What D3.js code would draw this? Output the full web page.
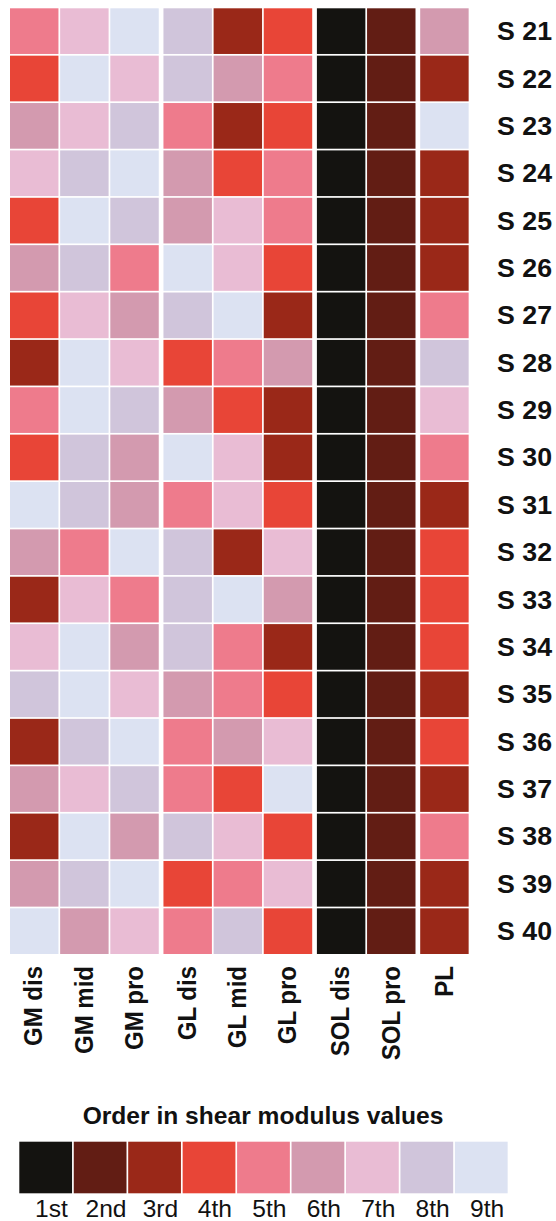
<!DOCTYPE html>
<html>
<head>
<meta charset="utf-8">
<script src="https://cdn.jsdelivr.net/npm/d3@7/dist/d3.min.js"></script>
<style>
  html, body { margin: 0; padding: 0; background: #fff; }
  svg { display: block; }
</style>
</head>
<body>
<svg id="chart" width="556" height="1221"></svg>
<script>
// Muscle regions (columns) and their anatomical groups
const columns = ["GM dis", "GM mid", "GM pro", "GL dis", "GL mid", "GL pro", "SOL dis", "SOL pro", "PL"];
const groups  = ["GM", "GM", "GM", "GL", "GL", "GL", "SOL", "SOL", "PL"];

// Subjects (rows)
const subjects = ["S 21", "S 22", "S 23", "S 24", "S 25", "S 26", "S 27", "S 28", "S 29", "S 30",
                  "S 31", "S 32", "S 33", "S 34", "S 35", "S 36", "S 37", "S 38", "S 39", "S 40"];

// Rank of each region's shear modulus within a subject (1 = highest)
const gmDis  = [5, 4, 6, 7, 4, 6, 4, 3, 5, 4, 9, 6, 3, 7, 8, 3, 6, 3, 6, 9];
const gmMid  = [7, 9, 7, 8, 9, 8, 7, 9, 9, 8, 8, 5, 7, 9, 9, 8, 7, 9, 8, 6];
const gmPro  = [9, 7, 8, 9, 8, 5, 6, 7, 8, 6, 6, 9, 5, 6, 7, 9, 8, 6, 9, 7];
const glDis  = [8, 8, 5, 6, 6, 9, 8, 4, 6, 9, 5, 8, 8, 8, 6, 5, 5, 8, 4, 5];
const glMid  = [3, 6, 3, 4, 7, 7, 9, 5, 4, 7, 7, 3, 9, 5, 5, 6, 4, 7, 5, 8];
const glPro  = [4, 5, 4, 5, 5, 4, 3, 6, 3, 3, 4, 7, 6, 3, 4, 7, 9, 4, 7, 4];
const solDis = [1, 1, 1, 1, 1, 1, 1, 1, 1, 1, 1, 1, 1, 1, 1, 1, 1, 1, 1, 1];
const solPro = [2, 2, 2, 2, 2, 2, 2, 2, 2, 2, 2, 2, 2, 2, 2, 2, 2, 2, 2, 2];
const pl     = [6, 3, 9, 3, 3, 3, 5, 8, 7, 5, 3, 4, 4, 4, 3, 4, 3, 5, 3, 3];

// Legend categories
const rankLabels = ["1st", "2nd", "3rd", "4th", "5th", "6th", "7th", "8th", "9th"];
const rankColors = ["#141310", "#621d14", "#9a2818", "#e84537", "#ee7b8c",
                    "#d39aaf", "#e9bcd4", "#d0c5db", "#dce2f2"];

const series = [gmDis, gmMid, gmPro, glDis, glMid, glPro, solDis, solPro, pl];

const cells = [];
subjects.forEach((s, i) => {
  columns.forEach((c, j) => {
    cells.push({ subject: s, column: c, rank: series[j][i] });
  });
});

const svg = d3.select("#chart");
const font = "'Liberation Sans', Arial, Helvetica, sans-serif";
const stretch = 1.07; // slightly widened lettering

// Scales
const groupNames = Array.from(new Set(groups));
const groupGap = 3;
const x = d3.scaleBand().domain(columns).range([10, 10 + 9 * 50.15]);
const xPos = c => x(c) + groupGap * groupNames.indexOf(groups[columns.indexOf(c)]);
const y = d3.scaleBand().domain(subjects).range([8.3, 955.7]);
const color = d3.scaleOrdinal().domain(d3.range(1, 10)).range(rankColors);
const cellGap = 1.7;

// Heatmap cells
svg.append("g")
  .selectAll("rect")
  .data(cells)
  .join("rect")
  .attr("x", d => xPos(d.column))
  .attr("y", d => y(d.subject))
  .attr("width", x.bandwidth() - cellGap)
  .attr("height", y.bandwidth() - cellGap)
  .attr("fill", d => color(d.rank));

// Row labels
svg.append("g")
  .selectAll("text")
  .data(subjects)
  .join("text")
  .attr("transform", d => `translate(497,${y(d) + (y.bandwidth() - cellGap) / 2}) scale(${stretch},1)`)
  .attr("dy", "0.36em")
  .attr("font-family", font)
  .attr("font-weight", "bold")
  .attr("font-size", 25)
  .attr("fill", "#111")
  .text(d => d);

// Column labels (vertical)
svg.append("g")
  .selectAll("text")
  .data(columns)
  .join("text")
  .attr("transform", d => `translate(${xPos(d) + (x.bandwidth() - cellGap) / 2 - 1},966) scale(${stretch},1) rotate(-90)`)
  .attr("dy", "0.36em")
  .attr("text-anchor", "end")
  .attr("font-family", font)
  .attr("font-weight", "bold")
  .attr("font-size", 24)
  .attr("fill", "#111")
  .text(d => d);

// Legend
const legendX = d3.scaleBand().domain(rankLabels).range([19.3, 19.3 + 9 * 54.45]);
const legend = svg.append("g");

legend.append("text")
  .attr("transform", `translate(263,1124) scale(${stretch},1)`)
  .attr("text-anchor", "middle")
  .attr("font-family", font)
  .attr("font-weight", "bold")
  .attr("font-size", 23)
  .attr("fill", "#111")
  .text("Order in shear modulus values");

legend.selectAll("rect")
  .data(rankLabels)
  .join("rect")
  .attr("x", d => legendX(d))
  .attr("y", 1141.7)
  .attr("width", legendX.bandwidth() - cellGap)
  .attr("height", 51.6)
  .attr("fill", (d, i) => rankColors[i]);

legend.selectAll("text.tick")
  .data(rankLabels)
  .join("text")
  .attr("class", "tick")
  .attr("transform", d => `translate(${legendX(d) + legendX.bandwidth() / 2 + 5},1217) scale(${stretch},1)`)
  .attr("text-anchor", "middle")
  .attr("font-family", font)
  .attr("font-size", 23)
  .attr("fill", "#111")
  .text(d => d);
</script>
</body>
</html>
